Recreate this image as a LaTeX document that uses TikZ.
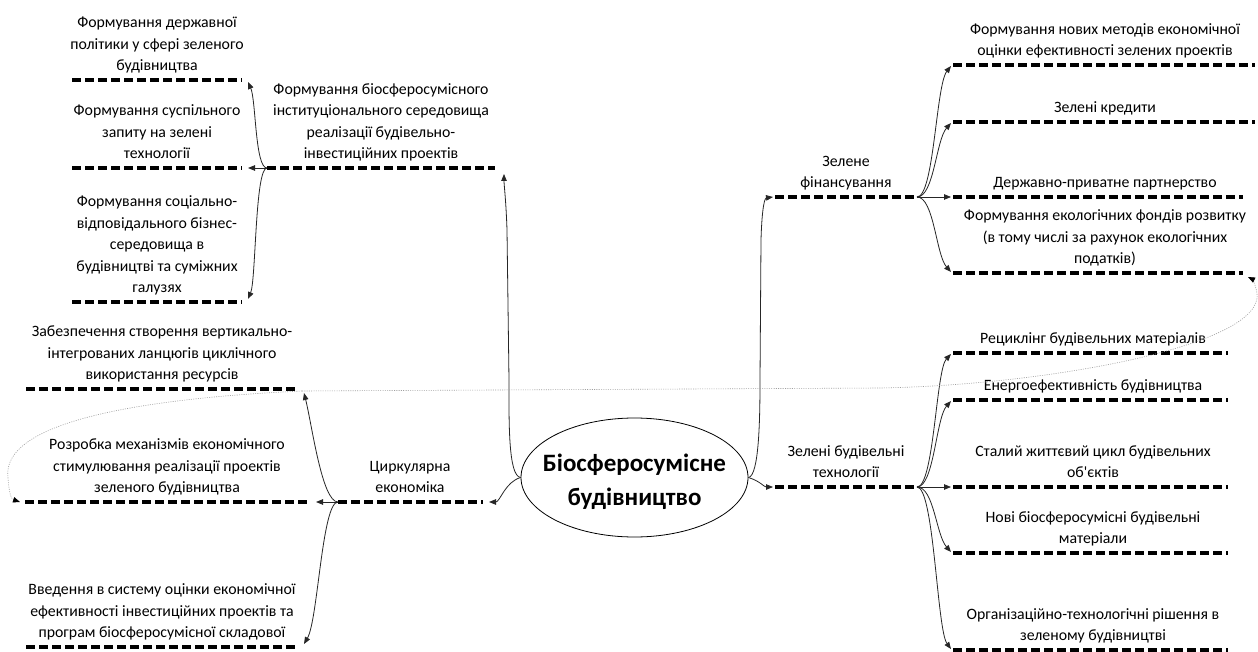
\documentclass[tikz,border=0pt]{standalone}
\usepackage{fontspec}
\setmainfont{Carlito}
\usetikzlibrary{arrows.meta,shapes.geometric,calc}
\newcommand\lineitem[6]{%
  \coordinate (#1l) at (#3,#5);
  \coordinate (#1r) at (#4,#5);
  \draw[thickdash] (#1l) -- (#1r);
  \node[lbl] (#1t) at (#2,#5-9) {#6};}
\begin{document}
\begin{tikzpicture}[x=1pt,y=-1pt,
  thickdash/.style={line width=3.8pt, dash pattern=on 9pt off 4pt, black},
  conn/.style={line width=0.8pt, black!85, -{Triangle[length=7pt,width=5.5pt]}},
  dotconn/.style={line width=0.6pt, gray!75, dash pattern=on 1pt off 1.3pt, -{Triangle[length=7pt,width=5.5pt,black]}},
  lbl/.style={anchor=south, text depth=0pt, align=center, inner sep=0pt, font=\fontsize{15.8}{21.5}\selectfont},
  centerbox/.style={ellipse, draw, line width=0.8pt, minimum width=227pt, minimum height=119pt, inner sep=0pt},
  titletext/.style={align=center, inner sep=0pt, font=\bfseries\fontsize{25}{34}\selectfont}]
\useasboundingbox (0,0) rectangle (1258,652);
\fill[white] (0,0) rectangle (1258,652);

\node[centerbox] (c) at (634.5,477.5) {};
\node[titletext] (ct) at (634.5,481.5) {Біосферосумісне\\будівництво};

% left top
\lineitem{la}{157}{72}{242}{80}{Формування державної\\політики у сфері зеленого\\будівництва}
\lineitem{lb}{157}{72}{242}{168}{Формування суспільного\\запиту на зелені\\технології}
\lineitem{lc}{157}{72}{242}{302}{Формування соціально-\\відповідального бізнес-\\середовища в\\будівництві та суміжних\\галузях}
\lineitem{lp}{381}{267}{495}{168}{Формування біосферосумісного\\інституціонального середовища\\реалізації будівельно-\\інвестиційних проектів}

\draw[conn] (lpl) .. controls (255,168) and (256,100) .. ($(lar)+(6,2)$);
\draw[conn] (lpl) -- ($(lbr)+(6,0)$);
\draw[conn] (lpl) .. controls (255,168) and (256,280) .. ($(lcr)+(6,-3)$);
\draw[conn] (c.west) .. controls (508,476) and (509,420) .. (509,380) -- (507,230) .. controls (506,200) and (504,185) .. ($(lpr)+(9,6)$);

% circular economy
\lineitem{ca}{162}{26}{297}{389}{Забезпечення створення вертикально-\\інтегрованих ланцюгів циклічного\\використання ресурсів}
\lineitem{cb}{167}{25}{310}{502}{Розробка механізмів економічного\\стимулювання реалізації проектів\\зеленого будівництва}
\lineitem{cc}{162}{26}{297}{647}{Введення в систему оцінки економічної\\ефективності інвестиційних проектів та\\програм біосферосумісної складової}
\lineitem{cp}{410}{338}{483}{502}{Циркулярна\\економіка}

\draw[conn] (cpl) .. controls (322,502) and (312,425) .. ($(car)+(7,4)$);
\draw[conn] (cpl) -- ($(cbr)+(6,0)$);
\draw[conn] (cpl) .. controls (322,502) and (318,620) .. ($(ccr)+(7,-3)$);
\draw[conn] (c.west) .. controls (505,482) and (500,502) .. ($(cpr)+(6,0)$);

% green financing
\lineitem{fp}{846}{775}{917}{197}{Зелене\\фінансування}
\lineitem{fa}{1105}{953}{1255}{65}{Формування нових методів економічної\\оцінки ефективності зелених проектів}
\lineitem{fb}{1105}{953}{1255}{122}{Зелені кредити}
\lineitem{fc}{1105}{953}{1243}{197}{Державно-приватне партнерство}
\lineitem{fd}{1105}{953}{1243}{273}{Формування екологічних фондів розвитку\\(в тому числі за рахунок екологічних\\податків)}

\draw[conn] (c.east) .. controls (759,476) and (760,420) .. (760,380) -- (761,240) .. controls (762,205) and (765,198) .. ($(fpl)+(-2,0)$);
\draw[conn] (fpr) .. controls (934,197) and (936,85) .. ($(fal)+(-2,1)$);
\draw[conn] (fpr) .. controls (934,197) and (936,140) .. ($(fbl)+(-2,1)$);
\draw[conn] (fpr) -- ($(fcl)+(-2,0)$);
\draw[conn] (fpr) .. controls (934,197) and (936,255) .. ($(fdl)+(-2,-1)$);

% green building technologies
\lineitem{tp}{846}{775}{917}{487}{Зелені будівельні\\технології}
\lineitem{ta}{1093}{953}{1228}{353}{Рециклінг будівельних матеріалів}
\lineitem{tb}{1093}{953}{1228}{400}{Енергоефективність будівництва}
\lineitem{tc}{1093}{953}{1228}{487}{Сталий життєвий цикл будівельних\\об\textquotesingle єктів}
\lineitem{td}{1093}{953}{1228}{553}{Нові біосферосумісні будівельні\\матеріали}
\lineitem{te}{1093}{953}{1228}{650}{Організаційно-технологічні рішення в\\зеленому будівництві}

\draw[conn] (c.east) .. controls (760,481) and (764,487) .. ($(tpl)+(-2,0)$);
\draw[conn] (tpr) .. controls (934,487) and (936,370) .. ($(tal)+(-2,1)$);
\draw[conn] (tpr) .. controls (934,487) and (936,418) .. ($(tbl)+(-2,1)$);
\draw[conn] (tpr) -- ($(tcl)+(-2,0)$);
\draw[conn] (tpr) .. controls (934,487) and (936,535) .. ($(tdl)+(-2,-1)$);
\draw[conn] (tpr) .. controls (934,487) and (937,630) .. ($(tel)+(-2,-1)$);

% dotted links
\coordinate (dz) at ($(car)+(5,2)$);
\draw[dotconn] (dz) -- (880,388) .. controls (1050,385) and (1265,345) .. (1257,293) .. controls (1255,283) and (1252,279) .. ($(fdr)+(5,4)$);
\draw[dotconn] (dz) .. controls (150,398) and (0,420) .. (8,478) .. controls (9,492) and (11,499) .. ($(cbl)+(-5,0)$);
\end{tikzpicture}
\end{document}
